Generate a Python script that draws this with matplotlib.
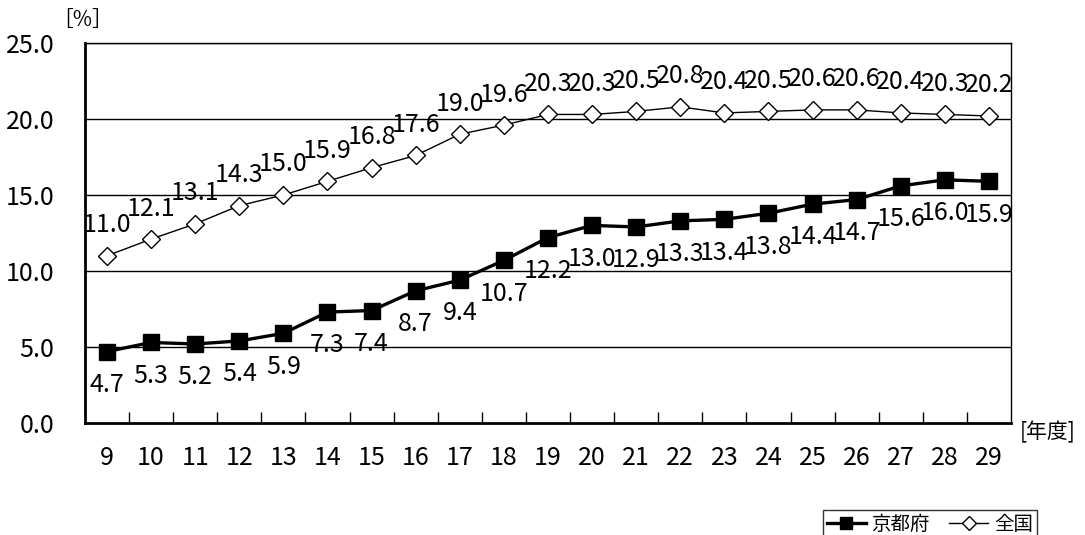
import matplotlib
matplotlib.use("Agg")
import matplotlib.pyplot as plt

plt.rcParams['font.family'] = ['Noto Sans CJK JP', 'DejaVu Sans']

# 年度
years = ['9', '10', '11', '12', '13', '14', '15', '16', '17', '18', '19',
         '20', '21', '22', '23', '24', '25', '26', '27', '28', '29']
kyoto = [4.7, 5.3, 5.2, 5.4, 5.9, 7.3, 7.4, 8.7, 9.4, 10.7, 12.2,
         13.0, 12.9, 13.3, 13.4, 13.8, 14.4, 14.7, 15.6, 16.0, 15.9]
zenkoku = [11.0, 12.1, 13.1, 14.3, 15.0, 15.9, 16.8, 17.6, 19.0, 19.6, 20.3,
           20.3, 20.5, 20.8, 20.4, 20.5, 20.6, 20.6, 20.4, 20.3, 20.2]
yticks = [0, 5, 10, 15, 20, 25]

fs = 18

fig = plt.figure(figsize=(10.85, 5.35), dpi=100)
ax = fig.add_axes([0.0783, 0.2093, 0.8535, 0.7103])

x = list(range(len(years)))
l1, = ax.plot(x, kyoto, color='black', lw=2.4, marker='s', ms=12,
              markerfacecolor='black', label='京都府', zorder=3)
l2, = ax.plot(x, zenkoku, color='black', lw=1.0, marker='D', ms=9,
              markerfacecolor='white', markeredgewidth=1.0, label='全国', zorder=3)

for i, v in enumerate(kyoto):
    ax.annotate(f"{v:.1f}", (i, v), xytext=(0, -24), textcoords='offset points',
                ha='center', va='center', fontsize=fs)
for i, v in enumerate(zenkoku):
    ax.annotate(f"{v:.1f}", (i, v), xytext=(0, 22), textcoords='offset points',
                ha='center', va='center', fontsize=fs)

ax.set_xlim(-0.5, len(years) - 0.5)
ax.set_ylim(0, 25)
ax.set_yticks(yticks)
ax.set_yticklabels([f"{t:.1f}" for t in yticks], fontsize=fs)
ax.tick_params(axis='y', length=0, pad=22)

ax.set_xticks(x)
ax.set_xticklabels(years, fontsize=fs)
ax.set_xticks([i + 0.5 for i in x[:-1]], minor=True)
ax.tick_params(axis='x', which='major', length=0, pad=16)
ax.tick_params(axis='x', which='minor', direction='in', length=8, width=1)

for t in yticks[1:]:
    ax.axhline(t, color='black', lw=1.0, zorder=1)

ax.spines['left'].set_linewidth(2)
ax.spines['bottom'].set_linewidth(2)
ax.spines['right'].set_linewidth(1)
ax.spines['top'].set_linewidth(1)

fig.text(52 / 1085, 1 - 20 / 535, '［%］', fontsize=15, va='center', ha='left')
fig.text(1020 / 1085, 1 - 432 / 535, '[年度]', fontsize=15, va='center', ha='left')

leg = fig.legend(handles=[l1, l2], loc='upper left',
                 bbox_to_anchor=(813 / 1085, 1 - 500 / 535), ncol=2,
                 fontsize=14, frameon=True, fancybox=False, edgecolor='black',
                 handlelength=2.0, columnspacing=1.0, handletextpad=0.3,
                 borderpad=0.2, markerscale=0.75)
leg.get_frame().set_linewidth(1.0)

fig.savefig('out.png', dpi=100)
